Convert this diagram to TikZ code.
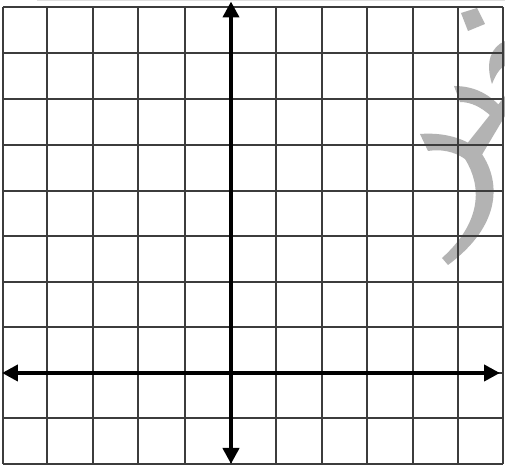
\documentclass[tikz,border=0pt]{standalone}
\usetikzlibrary{arrows.meta}
\definecolor{gridc}{HTML}{3C3C3C}
\definecolor{markc}{HTML}{B3B3B3}
\tikzset{
  gridline/.style={draw=gridc, line width=1.1pt},
  axisline/.style={draw=black, line width=2.4pt, {Triangle[length=0.32cm,width=0.32cm]}-{Triangle[length=0.32cm,width=0.32cm]}},
  mark shape/.style={fill=markc, draw=none}
}
\begin{document}
\begin{tikzpicture}[x=0.02cm,y=-0.02cm]
\useasboundingbox (0,0) rectangle (505,465);
\fill[white] (0,0) rectangle (505,465);
% faint top line
\draw[gray!25, line width=0.6pt] (37,0.6) -- (505,0.6);
% watermark
\fill[mark shape] (461,13) -- (477,8) -- (485,24) -- (468,31) -- cycle;
\fill[mark shape] (505,41) .. controls (491,47) and (485,62) .. (492,84) .. controls (496,74) and (500,68) .. (505,66) -- cycle;
\fill[mark shape] (454,86) .. controls (473,86) and (487,93) .. (499,105) -- (491,116) .. controls (481,107) and (471,102) .. (460,102) -- cycle;
\fill[mark shape] (505,96) -- (505,116) -- (480,158) -- (462,150) -- cycle;
\fill[mark shape] (420,134) .. controls (445,132) and (466,139) .. (479,150) .. controls (502,180) and (502,225) .. (448,265) -- (442,258) .. controls (482,222) and (482,186) .. (465,159) .. controls (454,151) and (440,149) .. (428,151) -- cycle;
% grid
\foreach \xv in {3,47,93,138,185,231,276,322,367,413,458,503} {
  \draw[gridline] (\xv,7) -- (\xv,464);
}
\foreach \yv in {7,53,99,145,191,236,282,327,373,418,464} {
  \draw[gridline] (3,\yv) -- (503,\yv);
}
% axes
\coordinate (ytop) at (231,1.5);
\coordinate (ybot) at (231,464);
\coordinate (xleft) at (2,373);
\coordinate (xright) at (500,373);
\draw[axisline] (ybot) -- (ytop);
\draw[axisline] (xleft) -- (xright);
\end{tikzpicture}
\end{document}
